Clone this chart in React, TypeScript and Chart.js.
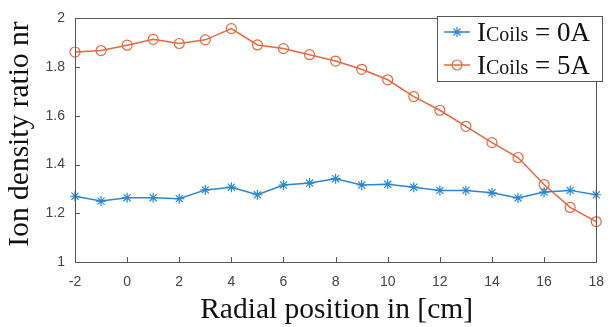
import React, { useEffect, useRef } from "react";
import { Chart, registerables } from "chart.js";

Chart.register(...registerables);

const positions = [-2, -1, 0, 1, 2, 3, 4, 5, 6, 7, 8, 9, 10, 11, 12, 13, 14, 15, 16, 17, 18];
const coils0A = [1.27, 1.25, 1.264, 1.264, 1.26, 1.296, 1.307, 1.276, 1.316, 1.324, 1.342, 1.316, 1.319, 1.307, 1.294, 1.294, 1.284, 1.263, 1.287, 1.294, 1.276];
const coils5A = [1.862, 1.868, 1.89, 1.914, 1.897, 1.912, 1.958, 1.891, 1.876, 1.851, 1.825, 1.791, 1.748, 1.679, 1.623, 1.557, 1.49, 1.429, 1.318, 1.224, 1.166];
const xTickValues = [-2, 0, 2, 4, 6, 8, 10, 12, 14, 16, 18];
const yTickValues = [1, 1.2, 1.4, 1.6, 1.8, 2];
const seriesNames = ["0A", "5A"];
const xTitle = "Radial position in [cm]";
const yTitle = "Ion density ratio nr";

const BLUE = "#2b87d3";
const ORANGE = "#e8683f";
const FRAME = "#555555";
const SERIF = "'Liberation Serif', 'Times New Roman', serif";
const SANS = "'Liberation Sans', Arial, sans-serif";

const framePlugin = {
  id: "framePlugin",
  afterDraw(chart: any) {
    const { ctx, chartArea: a, scales } = chart;
    ctx.save();
    ctx.strokeStyle = FRAME;
    ctx.lineWidth = 1;
    ctx.strokeRect(Math.round(a.left) + 0.5, Math.round(a.top) + 0.5, Math.round(a.right - a.left), Math.round(a.bottom - a.top));
    // inward ticks
    ctx.beginPath();
    xTickValues.forEach((v) => {
      const px = Math.round(scales.x.getPixelForValue(v)) + 0.5;
      ctx.moveTo(px, a.bottom);
      ctx.lineTo(px, a.bottom - 5);
    });
    yTickValues.forEach((v) => {
      const py = Math.round(scales.y.getPixelForValue(v)) + 0.5;
      ctx.moveTo(a.left, py);
      ctx.lineTo(a.left + 5, py);
    });
    ctx.stroke();

    // axis titles
    ctx.fillStyle = "#111";
    ctx.textAlign = "center";
    ctx.textBaseline = "alphabetic";
    ctx.font = `29.5px ${SERIF}`;
    ctx.fillText(xTitle, (a.left + a.right) / 2 + 1, 318);
    ctx.save();
    ctx.translate(28, 134);
    ctx.rotate(-Math.PI / 2);
    ctx.font = `29.5px ${SERIF}`;
    ctx.fillText(yTitle, 0, 0);
    ctx.restore();

    // legend
    const lx = 437, ly = 16, lw = 165, lh = 65;
    ctx.fillStyle = "#fff";
    ctx.fillRect(lx, ly, lw, lh);
    ctx.strokeStyle = FRAME;
    ctx.strokeRect(lx + 0.5, ly + 0.5, lw, lh);
    const rows = [32, 65];
    chart.data.datasets.forEach((ds: any, i: number) => {
      const y = rows[i];
      ctx.strokeStyle = ds.borderColor;
      ctx.lineWidth = 1.5;
      ctx.beginPath();
      ctx.moveTo(444, y);
      ctx.lineTo(470, y);
      ctx.stroke();
      ctx.lineWidth = 1.2;
      const style = ds.pointStyle;
      if (style === "circle") {
        ctx.beginPath();
        ctx.arc(457, y, 5, 0, Math.PI * 2);
        ctx.stroke();
      } else {
        ctx.beginPath();
        for (let k = 0; k < 4; k++) {
          const ang = (k * Math.PI) / 4;
          ctx.moveTo(457 - 5 * Math.cos(ang), y - 5 * Math.sin(ang));
          ctx.lineTo(457 + 5 * Math.cos(ang), y + 5 * Math.sin(ang));
        }
        ctx.stroke();
      }
      ctx.fillStyle = "#111";
      ctx.textAlign = "left";
      ctx.textBaseline = "alphabetic";
      let tx = 477;
      const base = y + 9;
      ctx.font = `27px ${SERIF}`;
      ctx.fillText("I", tx, base);
      tx += ctx.measureText("I").width;
      ctx.font = `20px ${SERIF}`;
      ctx.fillText("Coils", tx, base);
      tx += ctx.measureText("Coils").width;
      ctx.font = `27px ${SERIF}`;
      ctx.fillText(" = " + seriesNames[i], tx, base);
    });
    ctx.restore();
  },
};

export default function App() {
  const ref = useRef<HTMLCanvasElement | null>(null);
  useEffect(() => {
    if (!ref.current) return;
    const chart = new Chart(ref.current, {
      type: "line",
      data: {
        datasets: [
          {
            label: "ICoils = 0A",
            data: positions.map((x, i) => ({ x, y: coils0A[i] })),
            borderColor: BLUE,
            backgroundColor: "rgba(0,0,0,0)",
            borderWidth: 1.5,
            pointStyle: "star",
            pointRadius: 5,
            pointBorderWidth: 1.2,
            pointBorderColor: BLUE,
            tension: 0,
            clip: false,
          } as any,
          {
            label: "ICoils = 5A",
            data: positions.map((x, i) => ({ x, y: coils5A[i] })),
            borderColor: ORANGE,
            backgroundColor: "rgba(0,0,0,0)",
            borderWidth: 1.5,
            pointStyle: "circle",
            pointRadius: 5,
            pointBorderWidth: 1.2,
            pointBorderColor: ORANGE,
            pointBackgroundColor: "rgba(0,0,0,0)",
            tension: 0,
            clip: false,
          } as any,
        ],
      },
      options: {
        animation: false,
        responsive: false,
        maintainAspectRatio: false,
        layout: { padding: { top: 11, right: 10, left: 0, bottom: 0 } },
        plugins: { legend: { display: false }, tooltip: { enabled: false } },
        scales: {
          x: {
            type: "linear",
            min: -2,
            max: 18,
            border: { display: false },
            grid: { display: false, drawTicks: false },
            afterBuildTicks: (s: any) => {
              s.ticks = xTickValues.map((v) => ({ value: v }));
            },
            afterFit: (s: any) => {
              s.height = 65;
            },
            ticks: {
              color: "#444",
              font: { family: SANS, size: 14 },
              padding: 12,
              maxRotation: 0,
              autoSkip: false,
            },
          },
          y: {
            type: "linear",
            min: 1,
            max: 2,
            border: { display: false },
            grid: { display: false, drawTicks: false },
            afterBuildTicks: (s: any) => {
              s.ticks = yTickValues.map((v) => ({ value: v }));
            },
            afterFit: (s: any) => {
              s.width = 75;
            },
            ticks: {
              color: "#444",
              font: { family: SANS, size: 14 },
              padding: 10,
              callback: (v: any) => String(Math.round(Number(v) * 10) / 10),
            },
          },
        },
      },
      plugins: [framePlugin],
    });
    return () => chart.destroy();
  }, []);
  return (
    <div style={{ position: "fixed", left: 0, top: 0, width: 616, height: 327, background: "#fff" }}>
      <canvas ref={ref} width={616} height={327} style={{ display: "block" }} />
    </div>
  );
}
